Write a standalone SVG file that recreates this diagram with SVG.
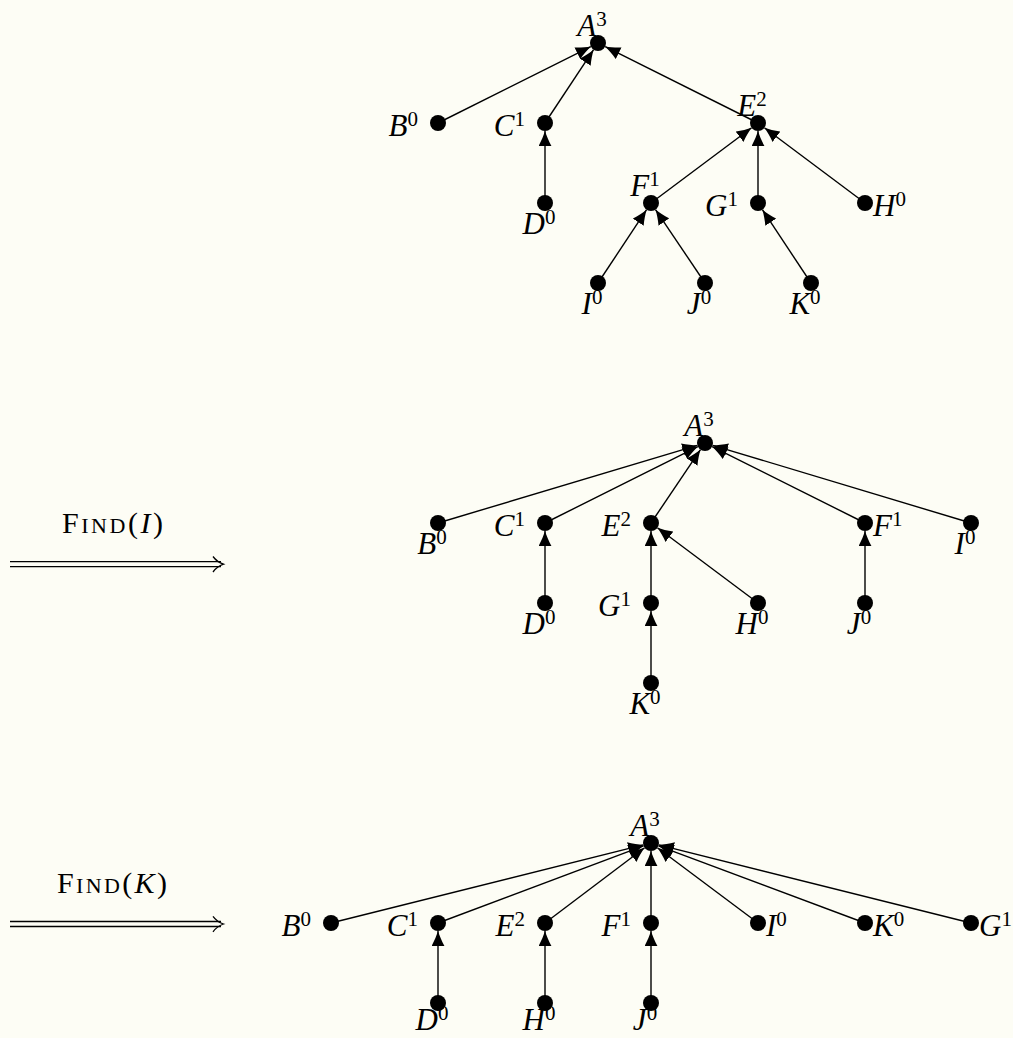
<svg xmlns="http://www.w3.org/2000/svg" width="1013" height="1038" viewBox="0 0 1013 1038">
<defs>
<style>
.bg{fill:#fdfdf5}
.dot{fill:#000}
.lbl{font-family:"Liberation Serif","Times New Roman",serif;font-style:italic;font-size:31px;fill:#000}
.sup{font-style:normal;font-size:21px}
.l{text-anchor:end}.c{text-anchor:middle}.r{text-anchor:start}
.edge{stroke:#000;stroke-width:1.4;fill:none;marker-end:url(#ah)}
.dbl{stroke:#000;stroke-width:1.3;fill:none}
.find{font-family:"Liberation Serif","Times New Roman",serif;font-size:30px;fill:#000}
.sc{font-size:22px}
.it{font-style:italic}
</style>
<marker id="ah" markerUnits="userSpaceOnUse" markerWidth="15" markerHeight="13" viewBox="0 0 14 12" refX="14" refY="6" orient="auto">
<path d="M14,6 C10,7.3 4.5,9.5 0,12 L0,0 C4.5,2.5 10,4.7 14,6 Z" fill="#000"/>
</marker>
</defs>
<rect class="bg" x="0" y="0" width="1013" height="1038"/>

<g id="connectors">
<line class="edge" x1="438" y1="123" x2="590.8" y2="46.6"/>
<line class="edge" x1="545" y1="123" x2="593.6" y2="49.7"/>
<line class="edge" x1="758" y1="123" x2="605.2" y2="46.6"/>
<line class="edge" x1="545" y1="203" x2="545" y2="131"/>
<line class="edge" x1="651" y1="203" x2="751.6" y2="127.8"/>
<line class="edge" x1="758" y1="203" x2="758" y2="131"/>
<line class="edge" x1="865" y1="203" x2="764.4" y2="127.8"/>
<line class="edge" x1="598" y1="283" x2="646.6" y2="209.7"/>
<line class="edge" x1="705" y1="283" x2="655.5" y2="209.6"/>
<line class="edge" x1="811" y1="283" x2="762.4" y2="209.7"/>
<line class="edge" x1="438" y1="523" x2="697.3" y2="445.3"/>
<line class="edge" x1="545" y1="523" x2="697.8" y2="446.6"/>
<line class="edge" x1="651" y1="523" x2="700.5" y2="449.6"/>
<line class="edge" x1="865" y1="523" x2="712.2" y2="446.6"/>
<line class="edge" x1="971" y1="523" x2="712.7" y2="445.3"/>
<line class="edge" x1="545" y1="603" x2="545" y2="531"/>
<line class="edge" x1="651" y1="603" x2="651" y2="531"/>
<line class="edge" x1="758" y1="603" x2="657.4" y2="527.8"/>
<line class="edge" x1="865" y1="603" x2="865" y2="531"/>
<line class="edge" x1="651" y1="683" x2="651" y2="611"/>
<line class="edge" x1="331" y1="923" x2="643.2" y2="844.9"/>
<line class="edge" x1="438" y1="923" x2="643.5" y2="845.8"/>
<line class="edge" x1="545" y1="923" x2="644.6" y2="847.8"/>
<line class="edge" x1="651" y1="923" x2="651" y2="851"/>
<line class="edge" x1="758" y1="923" x2="657.4" y2="847.8"/>
<line class="edge" x1="865" y1="923" x2="658.5" y2="845.8"/>
<line class="edge" x1="971" y1="923" x2="658.8" y2="844.9"/>
<line class="edge" x1="438" y1="1003" x2="438" y2="931"/>
<line class="edge" x1="545" y1="1003" x2="545" y2="931"/>
<line class="edge" x1="651" y1="1003" x2="651" y2="931"/>
<line class="dbl" x1="10" y1="561.7" x2="221" y2="561.7"/>
<line class="dbl" x1="10" y1="566.7" x2="221" y2="566.7"/>
<path class="dbl" d="M213,556.5 Q217,562 223.5,564.2 Q217,566.5 213,572"/>
<line class="dbl" x1="10" y1="921.5" x2="221" y2="921.5"/>
<line class="dbl" x1="10" y1="926.5" x2="221" y2="926.5"/>
<path class="dbl" d="M213,916.3 Q217,921.8 223.5,924 Q217,926.3 213,931.8"/>
</g>

<g id="find-I"><text class="find" x="62" y="533" textLength="101" lengthAdjust="spacing">F<tspan class="sc">IND</tspan>(<tspan class="it">I</tspan>)</text></g>
<g id="find-K"><text class="find" x="57" y="893" textLength="110" lengthAdjust="spacing">F<tspan class="sc">IND</tspan>(<tspan class="it">K</tspan>)</text></g>

<g id="t-A"><circle class="dot" cx="598" cy="43" r="8"/><text class="lbl c" x="592" y="36">A<tspan class="sup" dy="-10">3</tspan></text></g>
<g id="t-B"><circle class="dot" cx="438" cy="123" r="8"/><text class="lbl l" x="418" y="136">B<tspan class="sup" dy="-10">0</tspan></text></g>
<g id="t-C"><circle class="dot" cx="545" cy="123" r="8"/><text class="lbl l" x="525" y="136">C<tspan class="sup" dy="-10">1</tspan></text></g>
<g id="t-E"><circle class="dot" cx="758" cy="123" r="8"/><text class="lbl c" x="752" y="116">E<tspan class="sup" dy="-10">2</tspan></text></g>
<g id="t-D"><circle class="dot" cx="545" cy="203" r="8"/><text class="lbl c" x="539" y="234">D<tspan class="sup" dy="-10">0</tspan></text></g>
<g id="t-F"><circle class="dot" cx="651" cy="203" r="8"/><text class="lbl c" x="645" y="196">F<tspan class="sup" dy="-10">1</tspan></text></g>
<g id="t-G"><circle class="dot" cx="758" cy="203" r="8"/><text class="lbl l" x="738" y="216">G<tspan class="sup" dy="-10">1</tspan></text></g>
<g id="t-H"><circle class="dot" cx="865" cy="203" r="8"/><text class="lbl r" x="873" y="216">H<tspan class="sup" dy="-10">0</tspan></text></g>
<g id="t-I"><circle class="dot" cx="598" cy="283" r="8"/><text class="lbl c" x="592" y="314">I<tspan class="sup" dy="-10">0</tspan></text></g>
<g id="t-J"><circle class="dot" cx="705" cy="283" r="8"/><text class="lbl c" x="699" y="314">J<tspan class="sup" dy="-10">0</tspan></text></g>
<g id="t-K"><circle class="dot" cx="811" cy="283" r="8"/><text class="lbl c" x="805" y="314">K<tspan class="sup" dy="-10">0</tspan></text></g>

<g id="m-A"><circle class="dot" cx="705" cy="443" r="8"/><text class="lbl c" x="699" y="436">A<tspan class="sup" dy="-10">3</tspan></text></g>
<g id="m-B"><circle class="dot" cx="438" cy="523" r="8"/><text class="lbl c" x="432" y="554">B<tspan class="sup" dy="-10">0</tspan></text></g>
<g id="m-C"><circle class="dot" cx="545" cy="523" r="8"/><text class="lbl l" x="525" y="536">C<tspan class="sup" dy="-10">1</tspan></text></g>
<g id="m-E"><circle class="dot" cx="651" cy="523" r="8"/><text class="lbl l" x="631" y="536">E<tspan class="sup" dy="-10">2</tspan></text></g>
<g id="m-F"><circle class="dot" cx="865" cy="523" r="8"/><text class="lbl r" x="873" y="536">F<tspan class="sup" dy="-10">1</tspan></text></g>
<g id="m-I"><circle class="dot" cx="971" cy="523" r="8"/><text class="lbl c" x="965" y="554">I<tspan class="sup" dy="-10">0</tspan></text></g>
<g id="m-D"><circle class="dot" cx="545" cy="603" r="8"/><text class="lbl c" x="539" y="634">D<tspan class="sup" dy="-10">0</tspan></text></g>
<g id="m-G"><circle class="dot" cx="651" cy="603" r="8"/><text class="lbl l" x="631" y="616">G<tspan class="sup" dy="-10">1</tspan></text></g>
<g id="m-H"><circle class="dot" cx="758" cy="603" r="8"/><text class="lbl c" x="752" y="634">H<tspan class="sup" dy="-10">0</tspan></text></g>
<g id="m-J"><circle class="dot" cx="865" cy="603" r="8"/><text class="lbl c" x="859" y="634">J<tspan class="sup" dy="-10">0</tspan></text></g>
<g id="m-K"><circle class="dot" cx="651" cy="683" r="8"/><text class="lbl c" x="645" y="714">K<tspan class="sup" dy="-10">0</tspan></text></g>

<g id="b-A"><circle class="dot" cx="651" cy="843" r="8"/><text class="lbl c" x="645" y="836">A<tspan class="sup" dy="-10">3</tspan></text></g>
<g id="b-B"><circle class="dot" cx="331" cy="923" r="8"/><text class="lbl l" x="311" y="936">B<tspan class="sup" dy="-10">0</tspan></text></g>
<g id="b-C"><circle class="dot" cx="438" cy="923" r="8"/><text class="lbl l" x="418" y="936">C<tspan class="sup" dy="-10">1</tspan></text></g>
<g id="b-E"><circle class="dot" cx="545" cy="923" r="8"/><text class="lbl l" x="525" y="936">E<tspan class="sup" dy="-10">2</tspan></text></g>
<g id="b-F"><circle class="dot" cx="651" cy="923" r="8"/><text class="lbl l" x="631" y="936">F<tspan class="sup" dy="-10">1</tspan></text></g>
<g id="b-I"><circle class="dot" cx="758" cy="923" r="8"/><text class="lbl r" x="766" y="936">I<tspan class="sup" dy="-10">0</tspan></text></g>
<g id="b-K"><circle class="dot" cx="865" cy="923" r="8"/><text class="lbl r" x="873" y="936">K<tspan class="sup" dy="-10">0</tspan></text></g>
<g id="b-G"><circle class="dot" cx="971" cy="923" r="8"/><text class="lbl r" x="979" y="936">G<tspan class="sup" dy="-10">1</tspan></text></g>
<g id="b-D"><circle class="dot" cx="438" cy="1003" r="8"/><text class="lbl c" x="432" y="1030">D<tspan class="sup" dy="-10">0</tspan></text></g>
<g id="b-H"><circle class="dot" cx="545" cy="1003" r="8"/><text class="lbl c" x="539" y="1030">H<tspan class="sup" dy="-10">0</tspan></text></g>
<g id="b-J"><circle class="dot" cx="651" cy="1003" r="8"/><text class="lbl c" x="645" y="1030">J<tspan class="sup" dy="-10">0</tspan></text></g>
</svg>
